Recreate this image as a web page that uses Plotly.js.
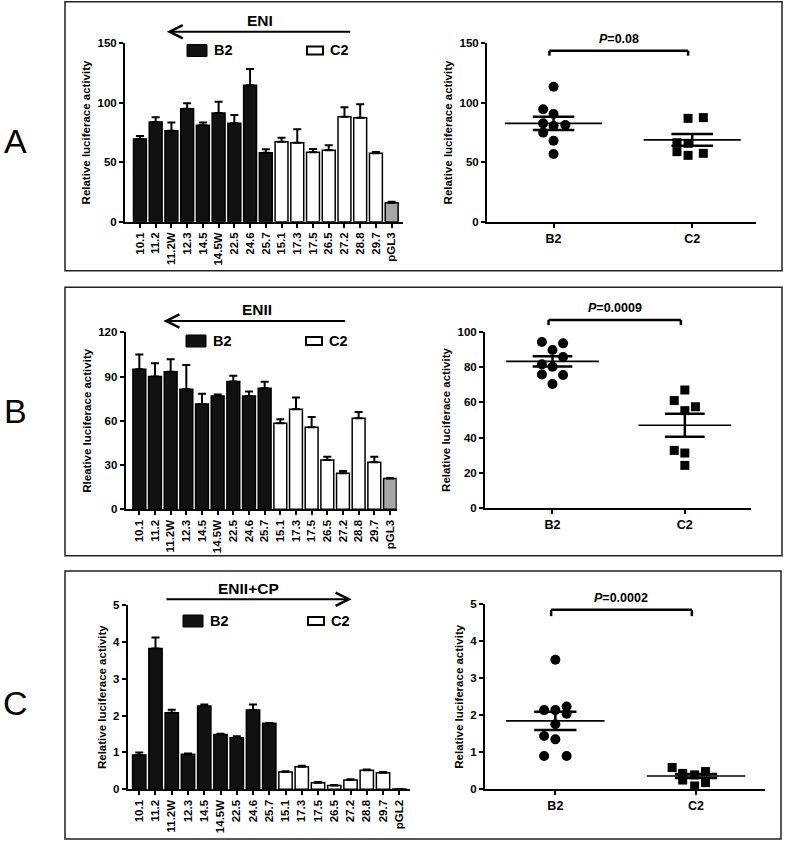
<!DOCTYPE html>
<html>
<head>
<meta charset="utf-8">
<script src="https://cdn.plot.ly/plotly-3.0.1.min.js"></script>
<style>
  html, body { margin: 0; padding: 0; background: #fff; }
  #chart { width: 787px; height: 843px; }
</style>
</head>
<body>
<div id="chart"></div>
<script>
/**
 * Data
 */
const labelsENI    = ['10.1','11.2','11.2W','12.3','14.5','14.5W','22.5','24.6','25.7','15.1','17.3','17.5','26.5','27.2','28.8','29.7','pGL3'];
const labelsENII   = ['10.1','11.2','11.2W','12.3','14.5','14.5W','22.5','24.6','25.7','15.1','17.3','17.5','26.5','27.2','28.8','29.7','pGL3'];
const labelsENIICP = ['10.1','11.2','11.2W','12.3','14.5','14.5W','22.5','24.6','25.7','15.1','17.3','17.5','26.5','27.2','28.8','29.7','pGL2'];
const genotype     = ['B2','B2','B2','B2','B2','B2','B2','B2','B2','C2','C2','C2','C2','C2','C2','C2','vector'];

const eniMean    = [69.5, 83.8, 76.5, 95, 81, 91.4, 82.7, 114.7, 58, 67.3, 66.4, 58.3, 60, 88.3, 87.5, 57.5, 16];
const eniErr     = [2.5, 4, 7, 4.5, 2.5, 9.5, 7, 13.7, 3, 3.3, 11.3, 2.8, 4.2, 7.9, 11.2, 1.1, 0.8];
const eniiMean   = [95, 90, 93.3, 81.4, 71.4, 76.8, 86.6, 76.8, 82, 58.3, 67.8, 55.6, 33.4, 24.4, 61.7, 31.9, 20.8];
const eniiErr    = [10, 9, 8.5, 16.5, 7, 1, 4, 3, 4.5, 2.7, 8, 7, 2.3, 1.6, 4.3, 3.8, 0.5];
const eniicpMean = [0.93, 3.82, 2.08, 0.95, 2.26, 1.49, 1.40, 2.15, 1.79, 0.47, 0.61, 0.18, 0.10, 0.25, 0.52, 0.45, 0.01];
const eniicpErr  = [0.07, 0.3, 0.08, 0.02, 0.04, 0.02, 0.04, 0.15, 0.01, 0.02, 0.03, 0.02, 0.02, 0.02, 0.02, 0.02, 0];

// scatter (dot) plots: individual constructs per genotype
const dotGroups = ['B2', 'C2'];
const eniB2    = [113.5, 94.5, 90.6, 82.7, 80.5, 81.3, 74.9, 68.1, 56.9];
const eniC2    = [86.9, 87.5, 66.4, 65.9, 58.9, 55.8, 57.5];
const eniiB2   = [94.2, 93.4, 89.6, 85.7, 81.5, 80.2, 75.8, 75.5, 70.4];
const eniiC2   = [67, 61, 57.5, 55.3, 32.8, 31.3, 24.3];
const eniicpB2 = [3.5, 2.14, 2.14, 2.24, 2.04, 1.76, 1.44, 1.35, 0.9, 0.9];
const eniicpC2 = [0.59, 0.43, 0.39, 0.48, 0.25, 0.18, 0.09];

// mean +/- SEM shown on the dot plots
const eniStats    = { mean: [82.7, 68.8], sem: [5.6, 4.9] };
const eniiStats   = { mean: [83.2, 47.0], sem: [2.9, 6.5] };
const eniicpStats = { mean: [1.85, 0.36], sem: [0.245, 0.055] };

const pValues = ['0.08', '0.0009', '0.0002'];

/**
 * Horizontal spread of the points (category units), as drawn
 */
const jitENI    = [[0, -0.075, 0, -0.075, 0, 0.085, -0.075, 0, 0], [-0.03, 0.08, -0.11, -0.03, -0.11, -0.03, 0.08]];
const jitENII   = [[-0.08, 0.08, 0, 0.08, -0.08, 0, -0.08, 0.08, 0], [0, -0.08, 0.08, 0, -0.08, 0, 0]];
const jitENIICP = [[0, -0.08, 0, 0.08, 0.08, 0, -0.08, 0, -0.08, 0.08], [-0.17, -0.095, -0.01, 0.067, -0.095, 0.067, -0.01]];

/**
 * Layout helpers (pixel -> paper)
 */
const W = 787, H = 843;
const FONT = 'Liberation Sans, Arial, Helvetica, sans-serif';
const BAR_FILL = { B2: '#111111', C2: '#ffffff', vector: '#a6a6a6' };
const px = v => v / W;
const py = v => 1 - v / H;
const domX = (a, b) => [px(a), px(b)];
const domY = (top, bottom) => [py(bottom), py(top)];

const traces = [];
const layout = {
	width: W,
	height: H,
	margin: { l: 0, r: 0, t: 0, b: 0 },
	paper_bgcolor: '#fff',
	plot_bgcolor: 'rgba(0,0,0,0)',
	showlegend: false,
	font: { family: FONT, color: '#000' },
	shapes: [],
	annotations: [],
};

function ids( n ){
	const s = n === 1 ? '' : String(n);
	return { x: 'x' + s, y: 'y' + s, xa: 'xaxis' + s, ya: 'yaxis' + s };
}

function axisStyle( extra ){
	return Object.assign({
		showline: true, linecolor: '#000', linewidth: 2,
		ticks: 'outside', ticklen: 4, tickwidth: 2, tickcolor: '#000',
		showgrid: false, zeroline: false, fixedrange: true,
		tickfont: { family: FONT, size: 11.5, color: '#000', weight: 'bold' },
	}, extra);
}

function yTitle( text ){
	return { text, font: { family: FONT, size: 11.5, color: '#000', weight: 'bold' }, standoff: 4 };
}

function text( x, y, str, size, opts ){
	layout.annotations.push(Object.assign({
		xref: 'paper', yref: 'paper', x: px(x), y: py(y), text: str, showarrow: false,
		xanchor: 'center', yanchor: 'middle',
		font: { family: FONT, size, color: '#000', weight: 'bold' },
	}, opts));
}

/**
 * Bar chart with heading arrow and the B2 / C2 key
 */
function addBarPanel( n, p, labels, values, errors ){
	const id = ids(n);
	traces.push({
		type: 'bar',
		x: labels,
		y: values,
		xaxis: id.x,
		yaxis: id.y,
		width: 0.82,
		marker: { color: genotype.map(g => BAR_FILL[g]), line: { color: '#000', width: 1.5 } },
		error_y: {
			type: 'data', symmetric: false, array: errors, arrayminus: errors.map(() => 0),
			color: '#000', thickness: 2, width: 4,
		},
		hoverinfo: 'x+y',
	});

	layout[id.xa] = axisStyle({
		domain: domX(p.x[0], p.x[1]), anchor: id.y, type: 'category',
		range: p.xRange, tickangle: -90,
	});
	layout[id.ya] = axisStyle({
		domain: domY(p.y[0], p.y[1]), anchor: id.x,
		range: p.yRange, dtick: p.dtick, title: yTitle(p.title),
	});

	// heading + arrow (tail -> head)
	text(p.headPos[0], p.headPos[1], p.heading, 15.5);
	layout.annotations.push({
		xref: 'paper', yref: 'paper', x: px(p.arrow[1]), y: py(p.arrow[2]),
		ax: p.arrow[0] - p.arrow[1], ay: 0, axref: 'pixel', ayref: 'pixel',
		text: '', showarrow: true, arrowhead: 5, arrowsize: 1.3, arrowwidth: 2, arrowcolor: '#000',
	});

	// key
	const k = p.key;
	layout.shapes.push({
		type: 'rect', xref: 'paper', yref: 'paper', x0: px(k[0]), x1: px(k[0] + 20), y0: py(k[1] - 6), y1: py(k[1] + 6),
		fillcolor: '#111', line: { color: '#000', width: 1 },
	});
	text(k[0] + 25, k[1], 'B2', 14.5, { xanchor: 'left' });
	layout.shapes.push({
		type: 'rect', xref: 'paper', yref: 'paper', x0: px(k[2]), x1: px(k[2] + 16), y0: py(k[1] - 4), y1: py(k[1] + 4),
		fillcolor: '#fff', line: { color: '#000', width: 2 },
	});
	text(k[2] + 21, k[1], 'C2', 14.5, { xanchor: 'left' });
}

/**
 * Dot plot with mean +/- SEM and P value bracket
 */
function addDotPanel( n, p, groups, jitter, stats, pValue ){
	const id = ids(n);
	const symbols = ['circle', 'square'];
	const sizes = [10, 9];

	groups.forEach(( vals, gi ) => {
		traces.push({
			type: 'scatter', mode: 'markers',
			x: vals.map(( v, k ) => gi + jitter[gi][k]),
			y: vals,
			xaxis: id.x, yaxis: id.y,
			marker: { symbol: symbols[gi], size: sizes[gi], color: '#000' },
			cliponaxis: false,
			name: dotGroups[gi],
		});
	});

	stats.mean.forEach(( m, gi ) => {
		const s = stats.sem[gi];
		traces.push({
			type: 'scatter', mode: 'lines', xaxis: id.x, yaxis: id.y, hoverinfo: 'skip',
			x: [gi - 0.35, gi + 0.35], y: [m, m],
			line: { color: '#000', width: 1.6 },
		});
		traces.push({
			type: 'scatter', mode: 'lines', xaxis: id.x, yaxis: id.y, hoverinfo: 'skip',
			x: [gi - 0.15, gi + 0.15, null, gi - 0.15, gi + 0.15, null, gi, gi],
			y: [m + s, m + s, null, m - s, m - s, null, m - s, m + s],
			line: { color: '#000', width: 2.5 },
		});
	});

	layout[id.xa] = axisStyle({
		domain: domX(p.x[0], p.x[1]), anchor: id.y, range: p.xRange,
		tickvals: [0, 1], ticktext: dotGroups,
		tickfont: { family: FONT, size: 12.5, color: '#000', weight: 'bold' },
	});
	layout[id.ya] = axisStyle({
		domain: domY(p.y[0], p.y[1]), anchor: id.x,
		range: p.yRange, dtick: p.dtick, title: yTitle('Relative luciferace activity'),
	});

	// bracket in (x data, y domain) so it may sit above the axis top
	const frac = v => (v - p.yRange[0]) / (p.yRange[1] - p.yRange[0]);
	const [top, foot] = p.bracket;
	const seg = ( x0, y0, x1, y1 ) => layout.shapes.push({
		type: 'line', xref: id.x, yref: id.y + ' domain', x0, x1, y0: frac(y0), y1: frac(y1),
		line: { color: '#000', width: 2.5 },
	});
	seg(-0.03, foot, -0.03, top);
	seg(-0.03, top, 0.97, top);
	seg(0.97, top, 0.97, foot);

	layout.annotations.push({
		xref: id.x, yref: id.y + ' domain', x: 0.47, y: frac(top), yshift: 3,
		xanchor: 'center', yanchor: 'bottom', showarrow: false,
		text: '<i>P</i>=' + pValue,
		font: { family: FONT, size: 12.5, color: '#000', weight: 'bold' },
	});
}

/**
 * Panel frames and letters
 */
function addFrame( box, letter, letterY ){
	layout.shapes.push({
		type: 'rect', xref: 'paper', yref: 'paper',
		x0: px(box[0]), x1: px(box[2]), y0: py(box[3]), y1: py(box[1]),
		line: { color: '#222', width: 1.5 },
	});
	layout.annotations.push({
		xref: 'paper', yref: 'paper', x: px(15), y: py(letterY), text: letter, showarrow: false,
		xanchor: 'center', yanchor: 'middle',
		font: { family: FONT, size: 34, color: '#000', weight: 'normal' },
	});
}

// A - ENI
addFrame([65, 1.7, 782, 270.7], 'A', 141);
addBarPanel(1, {
	x: [125, 403.3], y: [43.3, 221.7], xRange: [-0.95, 16.74], yRange: [0, 150], dtick: 50,
	title: 'Relative luciferace activity',
	heading: 'ENI', headPos: [260, 20], arrow: [351.7, 166.7, 31.7], key: [187, 50.5, 307],
}, labelsENI, eniMean, eniErr);
addDotPanel(2, {
	x: [487, 756], y: [43.3, 221.7], xRange: [-0.48, 1.46], yRange: [0, 150], dtick: 50,
	bracket: [143.8, 139.6],
}, [eniB2, eniC2], jitENI, eniStats, pValues[0]);

// B - ENII
addFrame([65, 287.3, 782, 555.7], 'B', 411);
addBarPanel(3, {
	x: [125.7, 396.7], y: [332.3, 509.3], xRange: [-0.87, 16.43], yRange: [0, 120], dtick: 30,
	title: 'Rleative luciferace activity',
	heading: 'ENII', headPos: [256.7, 310], arrow: [346.7, 163.3, 321], key: [186, 341, 306],
}, labelsENII, eniiMean, eniiErr);
addDotPanel(4, {
	x: [485, 751], y: [331.7, 508.3], xRange: [-0.51, 1.5], yRange: [0, 100], dtick: 20,
	bracket: [106.6, 103.7],
}, [eniiB2, eniiC2], jitENII, eniiStats, pValues[1]);

// C - ENII+CP
addFrame([65, 571, 781, 839], 'C', 703);
addBarPanel(5, {
	x: [127.7, 410], y: [605, 789.3], xRange: [-0.71, 16.66], yRange: [0, 5], dtick: 1,
	title: 'Relative luciferace activity',
	heading: 'ENII+CP', headPos: [248, 588], arrow: [165, 351.7, 599.3], key: [183, 621, 308],
}, labelsENIICP, eniicpMean, eniicpErr);
addDotPanel(6, {
	x: [485, 765], y: [604.3, 789.3], xRange: [-0.5, 1.49], yRange: [0, 5], dtick: 1,
	bracket: [4.85, 4.68],
}, [eniicpB2, eniicpC2], jitENIICP, eniicpStats, pValues[2]);

Plotly.newPlot('chart', traces, layout, { displayModeBar: false, staticPlot: true });
</script>
</body>
</html>
